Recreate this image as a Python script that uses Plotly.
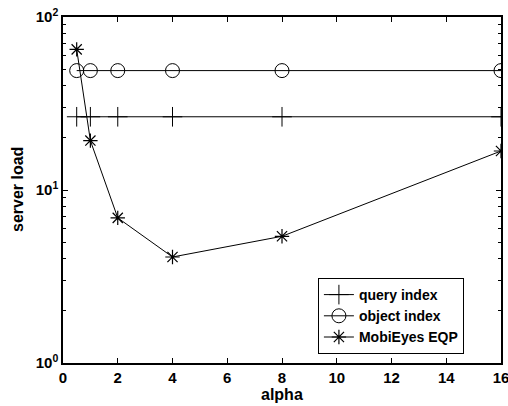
import plotly.graph_objects as go

alpha = [0.5, 1, 2, 4, 8, 16]
query_index = [26.5, 26.5, 26.5, 26.5, 26.5, 26.5]
object_index = [49, 49, 49, 49, 49, 49]
mobieyes_eqp = [65, 19.3, 6.9, 4.1, 5.4, 16.8]

x_ticks = [0, 2, 4, 6, 8, 10, 12, 14, 16]
y_ticks = [1, 10, 100]
y_ticktext = ["10<sup>0</sup>", "10<sup>1</sup>", "10<sup>2</sup>"]

FAM = "Liberation Sans, Arial, sans-serif"
font = dict(family=FAM, size=15, color="black")

fig = go.Figure()
fig.add_trace(go.Scatter(x=alpha, y=query_index, name="<b>query index</b>", mode="lines+markers",
                         line=dict(color="black", width=1),
                         marker=dict(symbol="cross-thin-open", size=14, color="black",
                                     line=dict(color="black", width=1))))
fig.add_trace(go.Scatter(x=alpha, y=object_index, name="<b>object index</b>", mode="lines+markers",
                         line=dict(color="black", width=1),
                         marker=dict(symbol="circle-open", size=14, color="black",
                                     line=dict(color="black", width=1))))
fig.add_trace(go.Scatter(x=alpha, y=mobieyes_eqp, name="<b>MobiEyes EQP</b>", mode="lines+markers",
                         line=dict(color="black", width=1),
                         marker=dict(symbol="asterisk-open", size=12, color="black",
                                     line=dict(color="black", width=1.2))))

fig.update_layout(
    width=508, height=406,
    margin=dict(l=63, r=7, t=17, b=43),
    paper_bgcolor="white", plot_bgcolor="white",
    font=font,
    showlegend=True,
    legend=dict(x=0.582, y=0.026, xanchor="left", yanchor="bottom",
                bordercolor="black", borderwidth=1, bgcolor="white",
                font=dict(family=FAM, size=14, color="black"),
                tracegroupgap=0, itemwidth=30),
    annotations=[
        dict(text="<b>alpha</b>", x=0.5, xref="paper", y=-0.09, yref="paper",
             xanchor="center", yanchor="middle", showarrow=False,
             font=dict(family=FAM, size=16, color="black")),
        dict(text="<b>server load</b>", x=-0.105, xref="paper", y=0.5, yref="paper",
             xanchor="center", yanchor="middle", showarrow=False, textangle=-90,
             font=dict(family=FAM, size=16, color="black")),
    ],
)
fig.update_xaxes(range=[0, 16], tickvals=x_ticks, ticktext=["<b>%d</b>" % v for v in x_ticks],
                 ticks="inside", ticklen=5, tickcolor="black", showline=True, linecolor="black",
                 linewidth=1.5, mirror="ticks", showgrid=False, zeroline=False, automargin=False,
                 ticklabeloverflow="allow", tickfont=dict(size=15))
fig.update_yaxes(type="log", range=[0, 2], tickvals=y_ticks,
                 ticktext=["<b>%s</b>" % t for t in y_ticktext],
                 ticks="inside", ticklen=5, tickcolor="black", showline=True, linecolor="black",
                 linewidth=1.5, mirror="ticks", showgrid=False, zeroline=False, automargin=False,
                 ticklabeloverflow="allow", tickfont=dict(size=15),
                 minor=dict(ticks="inside", ticklen=3, tickcolor="black", showgrid=False,
                            tickvals=[2, 3, 4, 5, 6, 7, 8, 9, 20, 30, 40, 50, 60, 70, 80, 90]))

fig.write_html("out.html", config={"displayModeBar": False},
               post_script="document.body.style.margin='0';")
